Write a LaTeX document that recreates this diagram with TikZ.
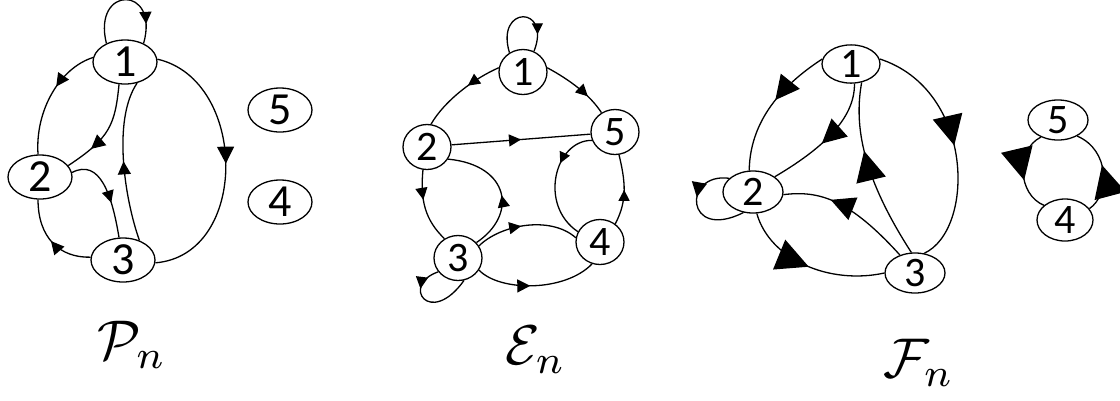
\documentclass[tikz,border=0pt]{standalone}
\usepackage{fontspec}
\newfontfamily\digitfont{Carlito}
\usetikzlibrary{shapes.geometric,arrows.meta,decorations.markings}
\begin{document}
\begin{tikzpicture}[x=1pt,y=-1pt,
  vtx/.style={draw, ellipse, inner sep=0pt, line width=1.3pt},
  pv/.style={vtx, minimum width=64pt, minimum height=44pt, font=\digitfont\fontsize{46}{46}\selectfont},
  ev/.style={vtx, minimum width=48pt, minimum height=45pt, font=\digitfont\fontsize{42}{42}\selectfont},
  fv/.style={vtx, minimum width=60pt, minimum height=40pt, font=\digitfont\fontsize{42}{42}\selectfont},
  con/.style={line width=1.3pt},
  ma/.style 2 args={postaction={decorate, decoration={markings,
     mark=at position #1 with {\arrow{Triangle[length=#2pt, width=#2pt]}}}}},
  lab/.style={inner sep=0pt}
]
\useasboundingbox (0,0) rectangle (1120,400);

% ---------- P_n ----------
\node[pv] (P1) at (125,62) {1};
\node[pv] (P2) at (40,177) {2};
\node[pv] (P3) at (123,260) {3};
\node[pv] (P5) at (280,110) {5};
\node[pv] (P4) at (280,202) {4};

\draw[con, ma={0.82}{12}] (P1.135) .. controls (92,-15) and (160,-15) .. (P1.45);
\draw[con, ma={0.4}{13}] (P1.172) .. controls (60,68) and (35,110) .. (P2.95);
\draw[con, ma={0.72}{14}] (P1.-105) .. controls (115,125) and (110,138) .. (P2.22);
\draw[con, ma={0.62}{12}] (P2.8) .. controls (100,158) and (112,195) .. (P3.100);
\draw[con, ma={0.5}{13}] (P3.175) .. controls (60,258) and (38,238) .. (P2.-95);
\draw[con, ma={0.5}{13}] (P3.50) .. controls (125,200) and (112,120) .. (P1.-60);
\draw[con, ma={0.5}{17}] (P1.5) .. controls (248,80) and (250,255) .. (P3.-5);

\node[lab] (lP) at (132,345) {\scalebox{5.6}{$\mathcal{P}_n$}};

% ---------- E_n ----------
\node[ev] (E1) at (523,72) {1};
\node[ev] (E2) at (427,147) {2};
\node[ev] (E5) at (615,132) {5};
\node[ev] (E4) at (600,242) {4};
\node[ev] (E3) at (458,258) {3};

\draw[con, ma={0.8}{11}] (E1.125) .. controls (495,5) and (552,5) .. (E1.62);
\draw[con, ma={0.4}{12}] (E1.170) .. controls (475,78) and (445,100) .. (E2.80);
\draw[con, ma={0.7}{12}] (E1.10) .. controls (570,80) and (590,95) .. (E5.125);
\draw[con, ma={0.5}{12}] (E2.5) -- (E5.185);
\draw[con, ma={0.4}{12}] (E2.-100) .. controls (420,200) and (425,220) .. (E3.125);
\draw[con, ma={0.45}{12}] (E3.40) .. controls (518,215) and (510,165) .. (E2.-30);
\draw[con, ma={0.45}{12}] (E3.30) .. controls (500,225) and (550,215) .. (E4.170);
\draw[con, ma={0.45}{13}] (E3.-30) .. controls (500,292) and (565,292) .. (E4.-110);
\draw[con, ma={0.35}{11}] (E5.200) .. controls (555,140) and (538,205) .. (E4.155);
\draw[con, ma={0.5}{11}] (E4.50) .. controls (628,200) and (625,180) .. (E5.-80);
\draw[con, ma={0.3}{12}] (E3.215) .. controls (400,285) and (430,328) .. (E3.-75);

\node[lab] (lE) at (536,350) {\scalebox{5.6}{$\mathcal{E}_n$}};

% ---------- F_n ----------
\node[fv, minimum width=58pt, minimum height=34pt] (F1) at (851,64) {1};
\node[fv, minimum height=42pt] (F2) at (753,192) {2};
\node[fv] (F3) at (915,273) {3};
\node[fv] (F5) at (1058,120) {5};
\node[fv, minimum width=56pt, minimum height=42pt] (F4) at (1065,220) {4};

\draw[con, ma={0.45}{24}] (F1.170) .. controls (790,80) and (750,115) .. (F2.100);
\draw[con, ma={0.55}{24}] (F1.-80) .. controls (855,120) and (820,150) .. (F2.35);
\draw[con, ma={0.62}{30}] (F3.100) .. controls (858,170) and (855,120) .. (F1.-60);
\draw[con, ma={0.5}{30}] (F1.10) .. controls (975,90) and (975,230) .. (F3.65);
\draw[con, ma={0.65}{24}] (F3.130) .. controls (850,200) and (820,190) .. (F2.-5);
\draw[con, ma={0.5}{32}] (F2.-80) .. controls (770,260) and (830,285) .. (F3.180);
\draw[con, ma={0.4}{15}] (F2.150) .. controls (682,172) and (685,242) .. (F2.-115);
\draw[con, ma={0.6}{32}] (F5.-135) .. controls (1015,150) and (1018,195) .. (F4.145);
\draw[con, ma={0.55}{32}] (F4.25) .. controls (1110,195) and (1110,150) .. (F5.-40);

\node[lab] (lF) at (919,363) {\scalebox{5.6}{$\mathcal{F}_n$}};
\end{tikzpicture}
\end{document}
